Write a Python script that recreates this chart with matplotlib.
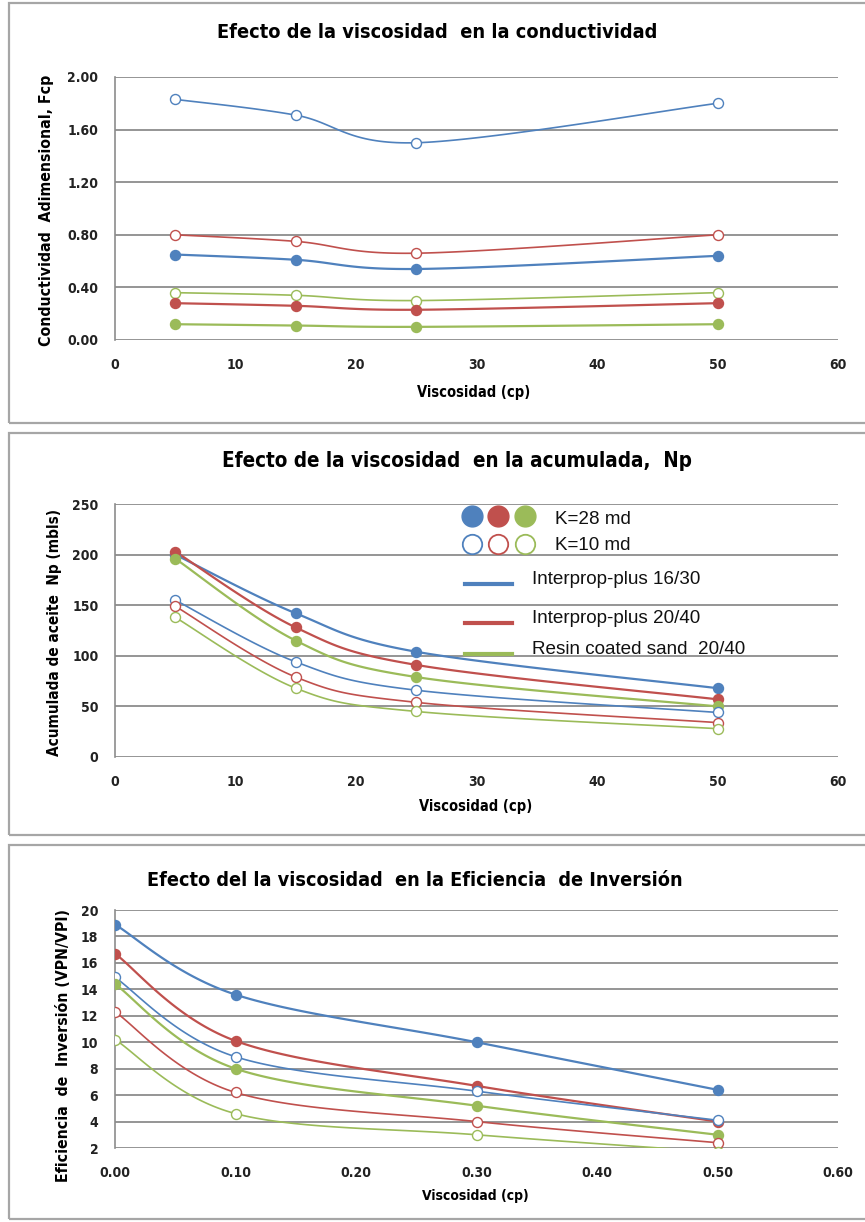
import numpy as np
import matplotlib
matplotlib.use("Agg")
import matplotlib.pyplot as plt
from matplotlib.patches import Rectangle
from matplotlib.lines import Line2D

plt.rcParams['font.family'] = ['DejaVu Sans']
plt.rcParams['font.stretch'] = 'condensed'

BLUE = '#4F81BD'
RED = '#C0504D'
GREEN = '#9BBB59'
GRID = '#8C8C8C'

# ---- data -------------------------------------------------------------
visc = [5, 15, 25, 50]

# Conductividad adimensional Fcp
fcp_blue_k28 = [0.65, 0.61, 0.54, 0.64]
fcp_red_k28 = [0.28, 0.26, 0.23, 0.28]
fcp_green_k28 = [0.12, 0.11, 0.10, 0.12]
fcp_blue_k10 = [1.83, 1.71, 1.50, 1.80]
fcp_red_k10 = [0.80, 0.75, 0.66, 0.80]
fcp_green_k10 = [0.36, 0.34, 0.30, 0.36]

# Acumulada de aceite Np (mbls)
np_blue_k28 = [200, 142, 104, 68]
np_red_k28 = [203, 128, 91, 57]
np_green_k28 = [196, 115, 79, 50]
np_blue_k10 = [155, 94, 66, 44]
np_red_k10 = [149, 79, 54, 34]
np_green_k10 = [138, 68, 45, 28]

# Eficiencia de inversion (VPN/VPI)
visc_ef = [0.0, 0.1, 0.3, 0.5]
ef_blue_k28 = [18.9, 13.6, 10.0, 6.4]
ef_red_k28 = [16.7, 10.1, 6.7, 4.0]
ef_green_k28 = [14.4, 8.0, 5.2, 3.0]
ef_blue_k10 = [14.9, 8.9, 6.3, 4.1]
ef_red_k10 = [12.3, 6.2, 4.0, 2.4]
ef_green_k10 = [10.2, 4.6, 3.0, 1.7]

legend_products = ['Interprop-plus 16/30', 'Interprop-plus 20/40',
                   'Resin coated sand  20/40']


def smooth(x, y, xr, yr, n=40):
    """Smoothed Bezier path through the points (Excel-style), computed
    in normalised axis units so the curve shape follows the screen."""
    x = np.asarray(x, float)
    y = np.asarray(y, float)
    px = (x - xr[0]) / (xr[1] - xr[0])
    py = (y - yr[0]) / (yr[1] - yr[0]) * 0.36
    P = np.column_stack([px, py])
    Pe = np.vstack([P[0], P, P[-1]])
    t = np.linspace(0, 1, n)[:, None]
    out = []
    for i in range(len(P) - 1):
        p0, p1, p2, p3 = Pe[i], Pe[i + 1], Pe[i + 2], Pe[i + 3]
        c1 = p1 + (p2 - p0) / 6.0
        c2 = p2 - (p3 - p1) / 6.0
        seg = ((1 - t) ** 3) * p1 + 3 * ((1 - t) ** 2) * t * c1 \
            + 3 * (1 - t) * t ** 2 * c2 + t ** 3 * p2
        out.append(seg if i == 0 else seg[1:])
    S = np.vstack(out)
    sx = S[:, 0] * (xr[1] - xr[0]) + xr[0]
    sy = S[:, 1] / 0.36 * (yr[1] - yr[0]) + yr[0]
    return sx, sy


def series(ax, x, y, color, filled, xr, yr):
    sx, sy = smooth(x, y, xr, yr)
    lw = 1.6 if filled else 1.2
    ax.plot(sx, sy, color=color, lw=lw, solid_capstyle='round', zorder=3)
    ax.plot(x, y, ls='none', marker='o', ms=7.2,
            mfc=color if filled else 'white', mec=color,
            mew=1.0, zorder=4, clip_on=True)


def style_axes(ax, xr, yr, xticks, yticks, xfmt, yfmt):
    ax.set_xlim(*xr)
    ax.set_ylim(*yr)
    ax.set_xticks(xticks)
    ax.set_yticks(yticks)
    ax.set_xticklabels([xfmt.format(v) for v in xticks])
    ax.set_yticklabels([yfmt.format(v) for v in yticks])
    ax.tick_params(axis='y', length=0, labelsize=10, pad=12)
    ax.tick_params(axis='x', length=0, labelsize=10, pad=13)
    for lab in ax.get_xticklabels() + ax.get_yticklabels():
        lab.set_fontweight('bold')
        lab.set_color('#222222')
    for s in ['top', 'right', 'bottom']:
        ax.spines[s].set_visible(False)
    ax.spines['left'].set_color(GRID)
    ax.spines['left'].set_linewidth(1.2)
    for v in yticks:
        ax.axhline(v, color=GRID, lw=1.3, zorder=1)


W, H = 865, 1222
fig = plt.figure(figsize=(W / 100, H / 100), dpi=100)


def fx(px):
    return px / W


def fy(py):
    return 1 - py / H


# panel frames
for top, bot in [(3, 423), (433, 835), (845, 1219)]:
    fig.add_artist(Rectangle((fx(9), fy(bot)), fx(880 - 9), (bot - top) / H,
                             transform=fig.transFigure, fill=False,
                             ec='#A6A6A6', lw=1.6))


def make_axes(top, bot):
    return fig.add_axes([fx(115), fy(bot), fx(838 - 115), (bot - top) / H])


# ---- panel 1 ----------------------------------------------------------
ax1 = make_axes(77, 340)
xr1, yr1 = (0, 60), (0, 2.0)
style_axes(ax1, xr1, yr1, [0, 10, 20, 30, 40, 50, 60],
           [0, 0.4, 0.8, 1.2, 1.6, 2.0], '{:.0f}', '{:.2f}')
for y, c, f in [(fcp_blue_k10, BLUE, False), (fcp_red_k10, RED, False),
                (fcp_blue_k28, BLUE, True), (fcp_green_k10, GREEN, False),
                (fcp_red_k28, RED, True), (fcp_green_k28, GREEN, True)]:
    series(ax1, visc, y, c, f, xr1, yr1)
fig.text(fx(437), fy(32), 'Efecto de la viscosidad  en la conductividad',
         ha='center', va='center', fontsize=14.3, fontweight='bold')
fig.text(fx(474), fy(392), 'Viscosidad (cp)', ha='center', va='center',
         fontsize=10.5, fontweight='bold')
fig.text(fx(47), fy(210), 'Conductividad  Adimensional, Fcp', rotation=90,
         ha='center', va='center', fontsize=11.3, fontweight='bold')

# ---- panel 2 ----------------------------------------------------------
ax2 = make_axes(504, 757)
xr2, yr2 = (0, 60), (0, 250)
style_axes(ax2, xr2, yr2, [0, 10, 20, 30, 40, 50, 60],
           [0, 50, 100, 150, 200, 250], '{:.0f}', '{:.0f}')
for y, c, f in [(np_blue_k28, BLUE, True), (np_red_k28, RED, True),
                (np_green_k28, GREEN, True), (np_blue_k10, BLUE, False),
                (np_red_k10, RED, False), (np_green_k10, GREEN, False)]:
    series(ax2, visc, y, c, f, xr2, yr2)
fig.text(fx(457), fy(461), 'Efecto de la viscosidad  en la acumulada,  Np',
         ha='center', va='center', fontsize=14.8, fontweight='bold')
fig.text(fx(476), fy(806), 'Viscosidad (cp)', ha='center', va='center',
         fontsize=10.5, fontweight='bold')
fig.text(fx(55), fy(632), 'Acumulada de aceite  Np (mbls)', rotation=90,
         ha='center', va='center', fontsize=11, fontweight='bold')

# custom legend
legfont = dict(family='Liberation Sans', stretch='normal', fontsize=13.6,
               color='#111111')
for i, c in enumerate([BLUE, RED, GREEN]):
    cx = 472 + i * 26.5
    fig.add_artist(Line2D([fx(cx)], [fy(516)], marker='o', ms=15, mfc=c,
                          mec=c, ls='none', transform=fig.transFigure))
    fig.add_artist(Line2D([fx(cx)], [fy(544)], marker='o', ms=14,
                          mfc='white', mec=c, mew=1.3, ls='none',
                          transform=fig.transFigure))
fig.text(fx(555), fy(519), 'K=28 md', ha='left', va='center', **legfont)
fig.text(fx(555), fy(546), 'K=10 md', ha='left', va='center', **legfont)
for j, (c, name) in enumerate(zip([BLUE, RED, GREEN], legend_products)):
    ly = [584, 623, 654][j]
    ty = [579, 618, 650][j]
    fig.add_artist(Line2D([fx(465), fx(512)], [fy(ly), fy(ly)], color=c,
                          lw=3, transform=fig.transFigure))
    fig.text(fx(532), fy(ty), name, ha='left', va='center', **legfont)

# ---- panel 3 ----------------------------------------------------------
ax3 = make_axes(910, 1148)
xr3, yr3 = (0, 0.6), (2, 20)
style_axes(ax3, xr3, yr3, [0, 0.1, 0.2, 0.3, 0.4, 0.5, 0.6],
           list(range(2, 21, 2)), '{:.2f}', '{:.0f}')
for y, c, f in [(ef_blue_k28, BLUE, True), (ef_red_k28, RED, True),
                (ef_blue_k10, BLUE, False), (ef_green_k28, GREEN, True),
                (ef_red_k10, RED, False), (ef_green_k10, GREEN, False)]:
    series(ax3, visc_ef, y, c, f, xr3, yr3)
fig.text(fx(415), fy(880), 'Efecto del la viscosidad  en la Eficiencia  de Inversión',
         ha='center', va='center', fontsize=14.2, fontweight='bold')
fig.text(fx(475), fy(1196), 'Viscosidad (cp)', ha='center', va='center',
         fontsize=10, fontweight='bold')
fig.text(fx(63), fy(1046), 'Eficiencia  de  Inversión (VPN/VPI)', rotation=90,
         ha='center', va='center', fontsize=11.3, fontweight='bold')

fig.savefig('out.png', dpi=100)
